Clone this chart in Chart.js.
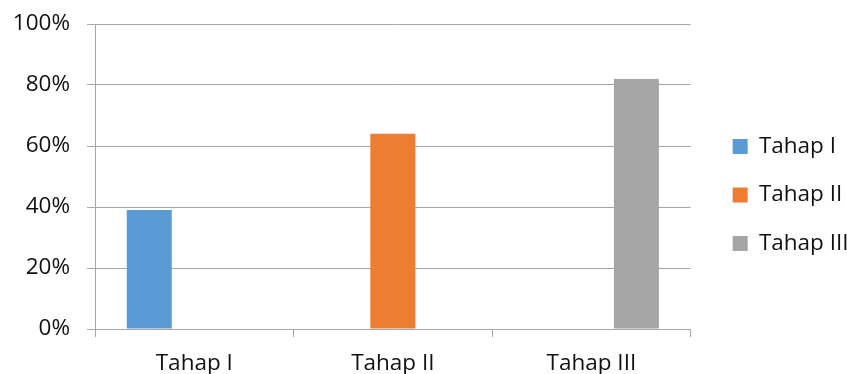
<!DOCTYPE html>
<html>
<head>
<meta charset="utf-8">
<script src="https://cdn.jsdelivr.net/npm/chart.js@4/dist/chart.umd.min.js"></script>
<style>
html, body { margin: 0; padding: 0; background: #fff; overflow: hidden; }
#wrap { width: 848px; height: 387px; }
</style>
</head>
<body>
<div id="wrap"><canvas id="tahapChart" width="848" height="387"></canvas></div>
<script>
// data
var categories = ['Tahap I', 'Tahap II', 'Tahap III'];
var seriesNames = ['Tahap I', 'Tahap II', 'Tahap III'];
var tahap1 = [0.39, null, null];
var tahap2 = [null, 0.64, null];
var tahap3 = [null, null, 0.82];
var yTicks = [0, 0.2, 0.4, 0.6, 0.8, 1];

var colors = ['#5b9bd5', '#ed7d31', '#a5a5a5'];
var gridColor = '#a6a6a6';
var textColor = '#111';
var font = { family: "'Open Sans', sans-serif", size: 22.5 };

function makeDataset(name, values, color) {
    return {
        label: name,
        data: values,
        backgroundColor: color,
        borderWidth: 0,
        yAxisID: 'y',
        categoryPercentage: 0.68,
        barPercentage: 1.0
    };
}

var ctx = document.getElementById('tahapChart').getContext('2d');
var tahapChart = new Chart(ctx, {
    type: 'bar',
    data: {
        labels: categories,
        datasets: [
            makeDataset(seriesNames[0], tahap1, colors[0]),
            makeDataset(seriesNames[1], tahap2, colors[1]),
            makeDataset(seriesNames[2], tahap3, colors[2])
        ]
    },
    options: {
        responsive: false,
        animation: false,
        layout: { padding: { top: 24, left: 0, right: 0, bottom: 0 } },
        plugins: {
            tooltip: { enabled: false },
            legend: {
                position: 'right',
                fullSize: false,
                // empty title, only pushes the items down a bit
                title: { display: true, text: '', font: { size: 10 }, padding: { top: 25, bottom: 0 } },
                labels: {
                    boxWidth: 15,
                    boxHeight: 15,
                    padding: 26,
                    color: textColor,
                    font: font
                }
            }
        },
        scales: {
            x: {
                offset: true,
                grid: {
                    display: true,
                    drawOnChartArea: false,
                    drawTicks: true,
                    tickLength: 8,
                    offset: true,
                    color: gridColor
                },
                border: { display: false },
                ticks: { padding: 13, color: textColor, font: font },
                afterFit: function(scale) {
                    scale.height = 58;
                    scale.paddingLeft = 0;
                    scale.paddingRight = 0;
                }
            },
            y: {
                min: 0,
                max: 1,
                afterBuildTicks: function(scale) {
                    scale.ticks = yTicks.map(function(v) { return { value: v }; });
                },
                grid: { color: gridColor, tickLength: 8 },
                border: { display: true, color: gridColor },
                ticks: {
                    padding: 17,
                    color: textColor,
                    font: font,
                    callback: function(v) { return Math.round(v * 100) + '%'; }
                },
                afterFit: function(scale) {
                    scale.width = 95;
                    scale.paddingTop = 0;
                    scale.paddingBottom = 0;
                }
            },
            // empty axis only used as spacing between plot and legend
            gap: {
                position: 'right',
                display: true,
                grid: { display: false },
                border: { display: false },
                ticks: { display: false },
                afterFit: function(scale) { scale.width = 16; }
            }
        }
    }
});
</script>
</body>
</html>
